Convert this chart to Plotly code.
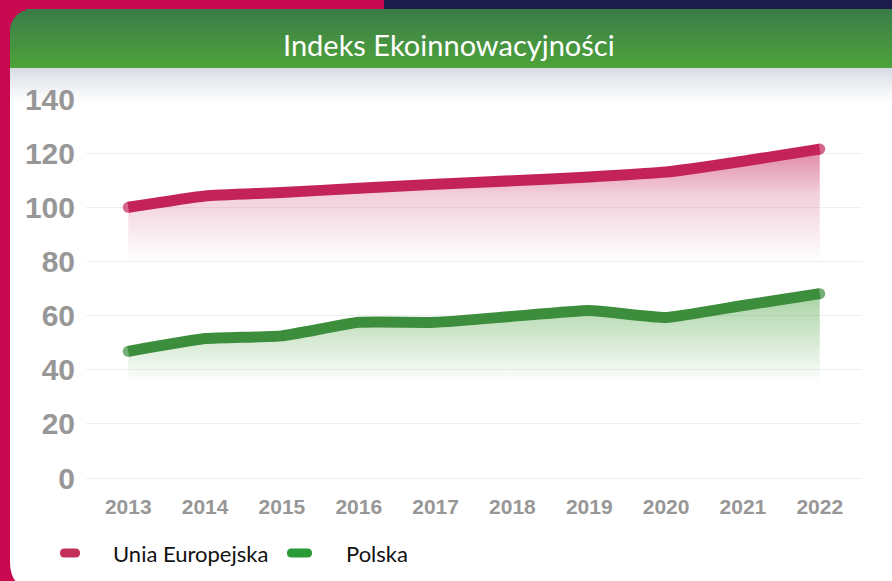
import plotly.graph_objects as go

years = ["2013", "2014", "2015", "2016", "2017", "2018", "2019", "2020", "2021", "2022"]
eu_values = [100.0, 104.2, 105.5, 107.0, 108.5, 109.8, 111.2, 113.0, 117.0, 121.5]
pl_values = [46.8, 51.5, 52.5, 57.5, 57.5, 59.7, 61.9, 59.3, 63.7, 68.1]
series_names = ["Unia Europejska", "Polska"]
y_ticks = [0, 20, 40, 60, 80, 100, 120, 140]
title_text = "Indeks Ekoinnowacyjności"

W, H = 892, 581
L, R, T, B = 86, 30, 99, 103
PW, PH = W - L - R, H - T - B

PINK = "#c8094f"
NAVY = "#1d1d4b"
EU_COLOR = "#c4235a"
PL_COLOR = "#3c8d3c"


def px(x):
    return (x - L) / PW


def py(y):
    return (H - B - y) / PH


def hexmix(c1, c2, t):
    a = [int(c1[i:i + 2], 16) for i in (1, 3, 5)]
    b = [int(c2[i:i + 2], 16) for i in (1, 3, 5)]
    return "#" + "".join(f"{round(a[k] + (b[k] - a[k]) * t):02x}" for k in range(3))


shapes = []
# background pieces
shapes.append(dict(type="rect", xref="paper", yref="paper", x0=px(384), x1=px(W + 5),
                   y0=py(-5), y1=py(60), fillcolor=NAVY, line_width=0, layer="below"))
# white card body (rounded bottom corners only, header covers the top)
rad = 22
rb = 28
x0c, x1c, y0c, y1c = 10, 910, 40, 590
card = (f"M {px(x0c)},{py(y0c)} L {px(x1c)},{py(y0c)} "
        f"L {px(x1c)},{py(y1c - rb)} Q {px(x1c)},{py(y1c)} {px(x1c - rb)},{py(y1c)} "
        f"L {px(x0c + rb)},{py(y1c)} Q {px(x0c)},{py(y1c)} {px(x0c)},{py(y1c - rb)} Z")
shapes.append(dict(type="path", xref="paper", yref="paper", path=card,
                   fillcolor="white", line_width=0, layer="below"))
# green header with vertical gradient (bands)
hy0, hy1 = 9, 68
step = 2
y = hy0
while y < hy1:
    yb = min(y + step, hy1)
    mid = (y + yb) / 2 - hy0
    inset = 0.0
    if mid < rad:
        d = rad - mid
        inset = rad - (rad ** 2 - d ** 2) ** 0.5
    t = (y - hy0) / (hy1 - hy0)
    shapes.append(dict(type="rect", xref="paper", yref="paper",
                       x0=px(x0c + inset), x1=px(893 - max(0, inset - 18)),
                       y0=py(yb + 0.3), y1=py(y), fillcolor=hexmix("#3a7c48", "#4fa43a", t),
                       line_width=0, layer="below"))
    y = yb
# light gray shade under header
for i in range(18):
    ya = 68 + i * 2
    t = i / 17
    shapes.append(dict(type="rect", xref="paper", yref="paper",
                       x0=px(x0c), x1=px(W + 5), y0=py(ya + 2.3), y1=py(ya),
                       fillcolor=hexmix("#d6dae4", "#ffffff", t ** 0.8),
                       line_width=0, layer="below"))

# legend pills
for (xa, xb, col) in [(60, 80, "#c4305a"), (287, 312, "#2a9a36")]:
    yc, hh = 553, 4.5
    pth = (f"M {px(xa + hh)},{py(yc - hh)} L {px(xb - hh)},{py(yc - hh)} "
           f"Q {px(xb)},{py(yc - hh)} {px(xb)},{py(yc)} Q {px(xb)},{py(yc + hh)} {px(xb - hh)},{py(yc + hh)} "
           f"L {px(xa + hh)},{py(yc + hh)} Q {px(xa)},{py(yc + hh)} {px(xa)},{py(yc)} "
           f"Q {px(xa)},{py(yc - hh)} {px(xa + hh)},{py(yc - hh)} Z")
    shapes.append(dict(type="path", xref="paper", yref="paper", path=pth,
                       fillcolor=col, line_width=0, layer="above"))

annotations = [
    dict(text=title_text, xref="paper", yref="paper", x=px(449), y=py(45),
         xanchor="center", yanchor="middle", showarrow=False,
         font=dict(family="Lato, Open Sans, sans-serif", size=29, color="white")),
    dict(text=series_names[0], xref="paper", yref="paper", x=px(111), y=py(553),
         xanchor="left", yanchor="middle", showarrow=False,
         font=dict(family="Lato, Open Sans, sans-serif", size=22, color="#111111")),
    dict(text=series_names[1], xref="paper", yref="paper", x=px(344), y=py(553),
         xanchor="left", yanchor="middle", showarrow=False,
         font=dict(family="Lato, Open Sans, sans-serif", size=22, color="#111111")),
]

cap = [11] + [0] * (len(years) - 2) + [11]

fig = go.Figure()
fig.add_trace(go.Scatter(
    x=years, y=eu_values, name=series_names[0], mode="lines+markers",
    line=dict(color=EU_COLOR, width=11, shape="spline", smoothing=0.4),
    marker=dict(size=cap, color=EU_COLOR, line_width=0),
    fill="tozeroy",
    fillgradient=dict(type="vertical", start=80, stop=max(eu_values),
                      colorscale=[[0, "rgba(196,35,90,0)"], [0.6, "rgba(196,35,90,0.22)"],
                                  [1, "rgba(196,35,90,0.55)"]]),
    showlegend=False,
))
fig.add_trace(go.Scatter(
    x=years, y=pl_values, name=series_names[1], mode="lines+markers",
    line=dict(color=PL_COLOR, width=11, shape="spline", smoothing=0.4),
    marker=dict(size=cap, color=PL_COLOR, line_width=0),
    fill="tozeroy",
    fillgradient=dict(type="vertical", start=35, stop=max(pl_values),
                      colorscale=[[0, "rgba(80,165,70,0)"], [0.5, "rgba(80,165,70,0.25)"],
                                  [1, "rgba(80,165,70,0.5)"]]),
    showlegend=False,
))

fig.update_layout(
    width=W, height=H,
    margin=dict(l=L, r=R, t=T, b=B),
    paper_bgcolor=PINK,
    plot_bgcolor="rgba(0,0,0,0)",
    shapes=shapes,
    annotations=annotations,
    showlegend=False,
    xaxis=dict(type="category", range=[-0.55, 9.55], showgrid=False, zeroline=False,
               showline=False, ticks="", ticklabelstandoff=14,
               tickfont=dict(family="Liberation Sans, Arial, sans-serif",
                             size=21, color="#979797", weight="bold")),
    yaxis=dict(range=[0, 140], tickvals=y_ticks, showgrid=True, gridcolor="#efeff2",
               gridwidth=1, zeroline=True, zerolinecolor="#efeff2", zerolinewidth=1,
               showline=False, ticks="", ticklabelstandoff=10,
               tickfont=dict(family="Liberation Sans, Arial, sans-serif",
                             size=30, color="#979797", weight="bold")),
)

fig.write_html("out.html", config={"displayModeBar": False},
               post_script="document.body.style.margin='0';")
